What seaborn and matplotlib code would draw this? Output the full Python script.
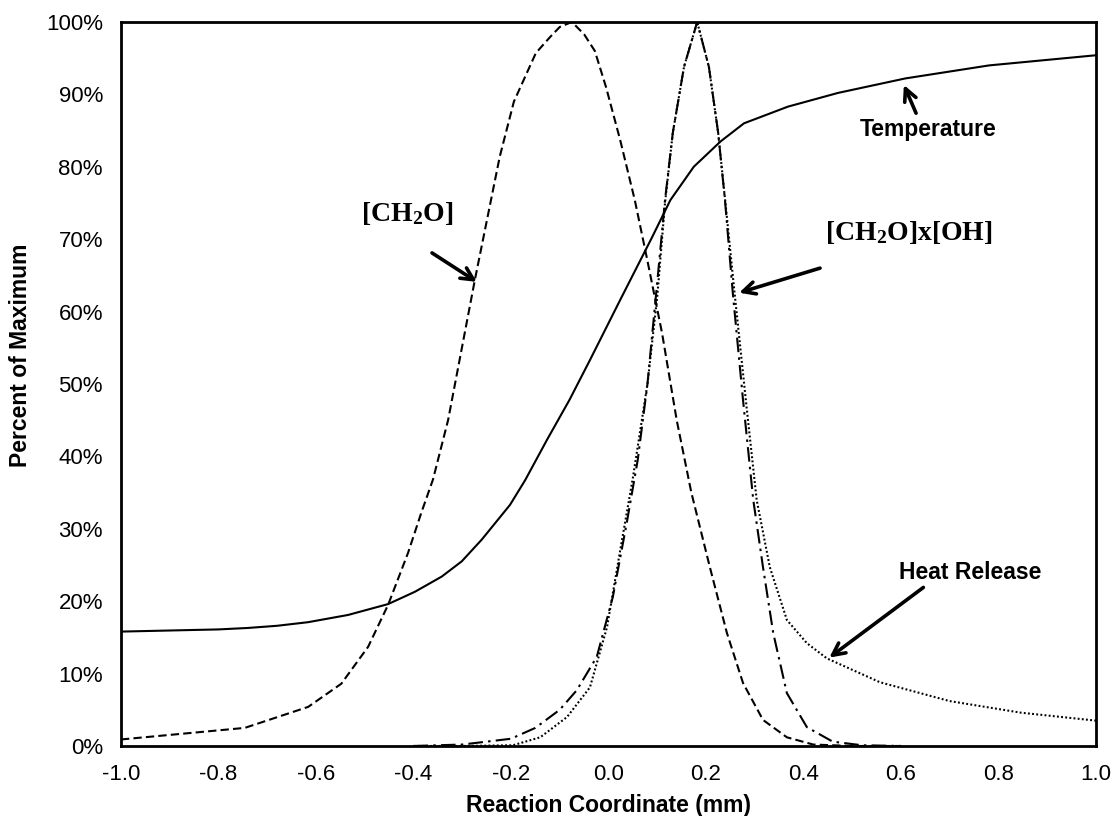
import numpy as np
import pandas as pd
import matplotlib
matplotlib.use("Agg")
import matplotlib.pyplot as plt
import seaborn as sns

# ---- data (x in mm, y in % of maximum) ----
temp_x = [-1.0, -0.9, -0.8, -0.74, -0.68, -0.616, -0.534, -0.452, -0.397, -0.342,
          -0.301, -0.26, -0.202, -0.171, -0.126, -0.08, -0.038, 0.024, 0.089, 0.127,
          0.175, 0.23, 0.278, 0.368, 0.471, 0.609, 0.781, 1.0]
temp_y = [15.8, 15.95, 16.1, 16.3, 16.6, 17.1, 18.1, 19.6, 21.3, 23.4,
          25.5, 28.5, 33.3, 36.7, 42.3, 47.8, 53.3, 61.6, 70.2, 75.4,
          80.0, 83.5, 86.0, 88.3, 90.2, 92.2, 94.0, 95.4]

ch2o_x = [-1.0, -0.746, -0.616, -0.548, -0.493, -0.452, -0.411, -0.384, -0.36, -0.329,
          -0.274, -0.223, -0.194, -0.149, -0.12, -0.1, -0.075, -0.05, -0.028, -0.005,
          0.024, 0.054, 0.08, 0.11, 0.14, 0.17, 0.208, 0.243, 0.276, 0.317,
          0.366, 0.42, 0.5, 0.6]
ch2o_y = [0.9, 2.5, 5.4, 8.6, 13.7, 19.5, 26.7, 32.2, 36.8, 45.0,
          64.4, 81.4, 89.0, 95.7, 97.9, 99.3, 100.0, 98.3, 96.0, 91.0,
          83.7, 75.4, 67.0, 57.0, 45.0, 35.0, 24.7, 15.6, 8.7, 3.6,
          1.2, 0.2, 0.0, 0.0]

ch2o_oh_x = [-0.4, -0.3, -0.2, -0.15, -0.1, -0.065, -0.024, 0.009, 0.038, 0.06,
             0.08, 0.1, 0.116, 0.132, 0.155, 0.182, 0.206, 0.225, 0.239, 0.255,
             0.276, 0.297, 0.317, 0.338, 0.366, 0.407, 0.46, 0.52, 0.6]
ch2o_oh_y = [0.0, 0.2, 1.0, 2.5, 5.0, 7.7, 12.3, 20.6, 31.0, 39.5,
             50.0, 64.0, 75.4, 84.7, 93.8, 100.0, 93.8, 84.7, 75.4, 62.6,
             47.8, 34.0, 24.7, 15.6, 7.3, 2.6, 0.6, 0.1, 0.0]

heat_x = [-0.4, -0.3, -0.196, -0.14, -0.085, -0.038, -0.003, 0.024, 0.05, 0.08,
          0.1, 0.116, 0.132, 0.155, 0.182, 0.206, 0.225, 0.243, 0.258, 0.283,
          0.304, 0.331, 0.366, 0.407, 0.448, 0.557, 0.7, 0.846, 1.0]
heat_y = [0.0, 0.0, 0.1, 1.2, 4.0, 8.1, 16.4, 27.0, 37.0, 50.0,
          62.0, 75.0, 84.7, 93.8, 100.0, 93.8, 84.7, 73.0, 63.0, 47.0,
          34.0, 24.7, 17.4, 14.2, 12.1, 8.8, 6.2, 4.6, 3.5]

x_ticks = [-1.0, -0.8, -0.6, -0.4, -0.2, 0.0, 0.2, 0.4, 0.6, 0.8, 1.0]
y_ticks = [0, 10, 20, 30, 40, 50, 60, 70, 80, 90, 100]

sns.set_theme(style="white")
plt.rcParams['font.family'] = ['Liberation Sans', 'DejaVu Sans']
plt.rcParams['axes.unicode_minus'] = False
plt.rcParams['mathtext.default'] = 'regular'
plt.rcParams['text.color'] = 'black'
plt.rcParams['axes.labelcolor'] = 'black'

fig = plt.figure(figsize=(11.14, 8.16), dpi=100)
ax = fig.add_axes([0.1086, 0.0858, 0.8752, 0.8873])

lw = 1.5
series = [
    (temp_x, temp_y, '-'),
    (ch2o_x, ch2o_y, (0, (4, 2))),
    (ch2o_oh_x, ch2o_oh_y, (0, (7, 2.5, 1.2, 2.5))),
    (heat_x, heat_y, (0, (0.9, 1.1))),
]
for xs, ys, ls in series:
    df = pd.DataFrame({'x': xs, 'y': ys})
    sns.lineplot(data=df, x='x', y='y', ax=ax, color='black', linewidth=lw,
                 linestyle=ls, errorbar=None)

ax.set_xlim(-1.0, 1.0)
ax.set_ylim(0, 100)
ax.set_xticks(x_ticks)
ax.set_yticks(y_ticks)
ax.set_xticklabels([f"{t:.1f}" for t in x_ticks])
ax.set_yticklabels([f"{t}%" for t in y_ticks])
ax.tick_params(direction='in', length=6, width=1.6, colors='black',
               labelsize=16, pad=13)

for sp in ax.spines.values():
    sp.set_color('black')
    sp.set_linewidth(2.0)

ax.set_xlabel("Reaction Coordinate (mm)", fontsize=16.5, fontweight='bold')
ax.set_ylabel("Percent of Maximum", fontsize=16.5, fontweight='bold')
ax.xaxis.set_label_coords(0.5, -0.066)
ax.yaxis.set_label_coords(-0.091, 0.539)

arrow = dict(arrowstyle='->', lw=2.6, color='black', mutation_scale=22,
             shrinkA=0, shrinkB=0)
serif = dict(family='Liberation Serif', fontweight='bold', fontsize=20, color='black')
sans = dict(family='Liberation Sans', fontweight='bold', fontsize=16.5, color='black')

ax.text(-0.413, 73.6, r"[CH$_2$O]", ha='center', va='center', **serif)
ax.annotate("", xy=(-0.270, 64.1), xytext=(-0.362, 68.1), arrowprops=arrow)

ax.text(0.616, 70.9, r"[CH$_2$O]x[OH]", ha='center', va='center', **serif)
ax.annotate("", xy=(0.268, 62.6), xytext=(0.434, 66.0), arrowprops=arrow)

ax.text(0.655, 85.2, "Temperature", ha='center', va='center', **sans)
ax.annotate("", xy=(0.606, 91.3), xytext=(0.631, 87.4), arrowprops=arrow)

ax.text(0.741, 24.0, "Heat Release", ha='center', va='center', **sans)
ax.annotate("", xy=(0.453, 12.2), xytext=(0.646, 21.9), arrowprops=arrow)

fig.savefig("out.png", dpi=100)
